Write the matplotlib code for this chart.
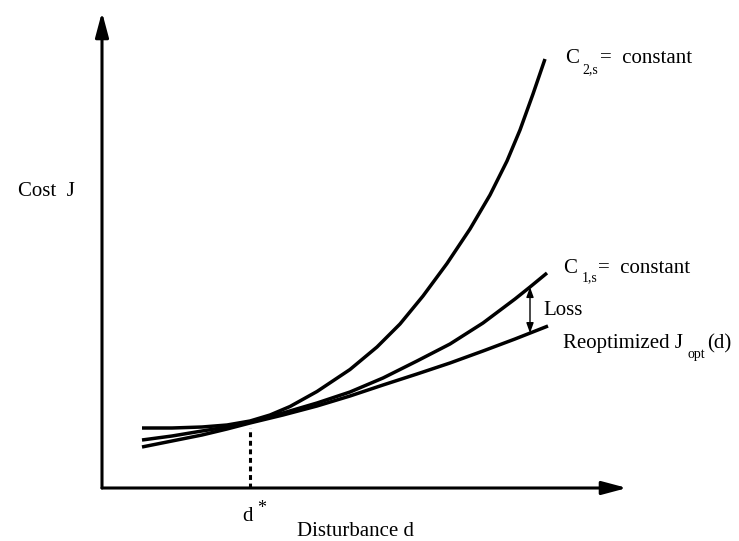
import numpy as np
import matplotlib
matplotlib.use('Agg')
from matplotlib import pyplot as plt

# values (d = disturbance, J = cost), schematic units
d_c2 = [0.80, 1.40, 2.00, 2.50, 2.96, 3.36, 3.76, 4.30, 4.96, 5.50, 5.96, 6.42,
        6.90, 7.36, 7.76, 8.10, 8.36, 8.62, 8.86]
J_c2 = [1.20, 1.20, 1.22, 1.26, 1.34, 1.46, 1.63, 1.93, 2.37, 2.82, 3.28, 3.84,
        4.49, 5.18, 5.86, 6.54, 7.16, 7.88, 8.58]

d_c1 = [0.80, 1.40, 2.00, 2.50, 2.96, 3.62, 4.30, 4.96, 5.62, 6.30, 6.96, 7.62,
        8.26, 8.56, 8.90]
J_c1 = [0.96, 1.04, 1.14, 1.22, 1.32, 1.50, 1.70, 1.92, 2.20, 2.54, 2.88, 3.30,
        3.78, 4.02, 4.30]

d_opt = [0.80, 1.40, 2.00, 2.50, 2.96, 3.62, 4.30, 4.96, 5.62, 6.30, 6.96, 7.62,
         8.26, 8.92]
J_opt = [0.82, 0.94, 1.06, 1.18, 1.30, 1.46, 1.64, 1.84, 2.06, 2.28, 2.50, 2.74,
         2.98, 3.24]

d_star = 2.96
d_loss = 8.56

plt.rcParams['font.family'] = ['Liberation Serif', 'DejaVu Serif']

fig = plt.figure(figsize=(7.39, 5.41), dpi=100)
ax = plt.axes([0., 0., 1., 1.])
ax.set_xlim(-2.04, 12.74)
ax.set_ylim(-1.06, 9.76)
ax.axis('off')

# axes drawn as arrows
arr = dict(arrowstyle='-|>,head_length=0.75,head_width=0.2', mutation_scale=20,
           lw=2.2, color='black', shrinkA=0, shrinkB=0)
ax.annotate('', xy=(10.5, 0), xytext=(0, 0), arrowprops=arr)
ax.annotate('', xy=(0, 9.52), xytext=(0, 0), arrowprops=arr)

lw = 2.5
for xs, ys in [(d_c2, J_c2), (d_c1, J_c1), (d_opt, J_opt)]:
    ax.plot(xs, ys, color='black', lw=lw, solid_capstyle='butt',
            solid_joinstyle='round')

# d* marker
j_star = np.interp(d_star, d_opt, J_opt)
ax.plot([d_star, d_star], [0, j_star - 0.1], color='black', lw=2.2,
        linestyle=(0, (1.6, 1.2)))

# loss arrow
top = np.interp(d_loss, d_c1, J_c1)
bot = np.interp(d_loss, d_opt, J_opt)
ax.annotate('', xy=(d_loss, top), xytext=(d_loss, bot),
            arrowprops=dict(arrowstyle='<|-|>,head_length=0.5,head_width=0.18',
                            mutation_scale=12, lw=1.0, color='black',
                            shrinkA=0, shrinkB=0))

fs = 15
sub = 10
kw = dict(va='baseline', ha='left', color='black')
ax.text(-1.68, 5.84, 'Cost  J', fontsize=fs, **kw)
ax.text(3.90, -0.96, 'Disturbance d', fontsize=fs, **kw)
ax.text(2.80, -0.66, 'd', fontsize=fs, **kw)
ax.text(3.10, -0.50, '*', fontsize=13, **kw)

ax.text(9.26, 8.50, 'C', fontsize=fs, **kw)
ax.text(9.60, 8.30, '2,s', fontsize=sub, **kw)
ax.text(9.96, 8.50, '=  constant', fontsize=fs, **kw)

ax.text(9.22, 4.30, 'C', fontsize=fs, **kw)
ax.text(9.60, 4.14, '1,s', fontsize=sub, **kw)
ax.text(9.92, 4.30, '=  constant', fontsize=fs, **kw)

ax.text(8.82, 3.46, 'Loss', fontsize=fs, **kw)

ax.text(9.22, 2.80, 'Reoptimized J', fontsize=fs, **kw)
ax.text(11.70, 2.60, 'opt', fontsize=sub, **kw)
ax.text(12.10, 2.80, '(d)', fontsize=fs, **kw)

fig.savefig('out.png', dpi=100)
plt.close(fig)
